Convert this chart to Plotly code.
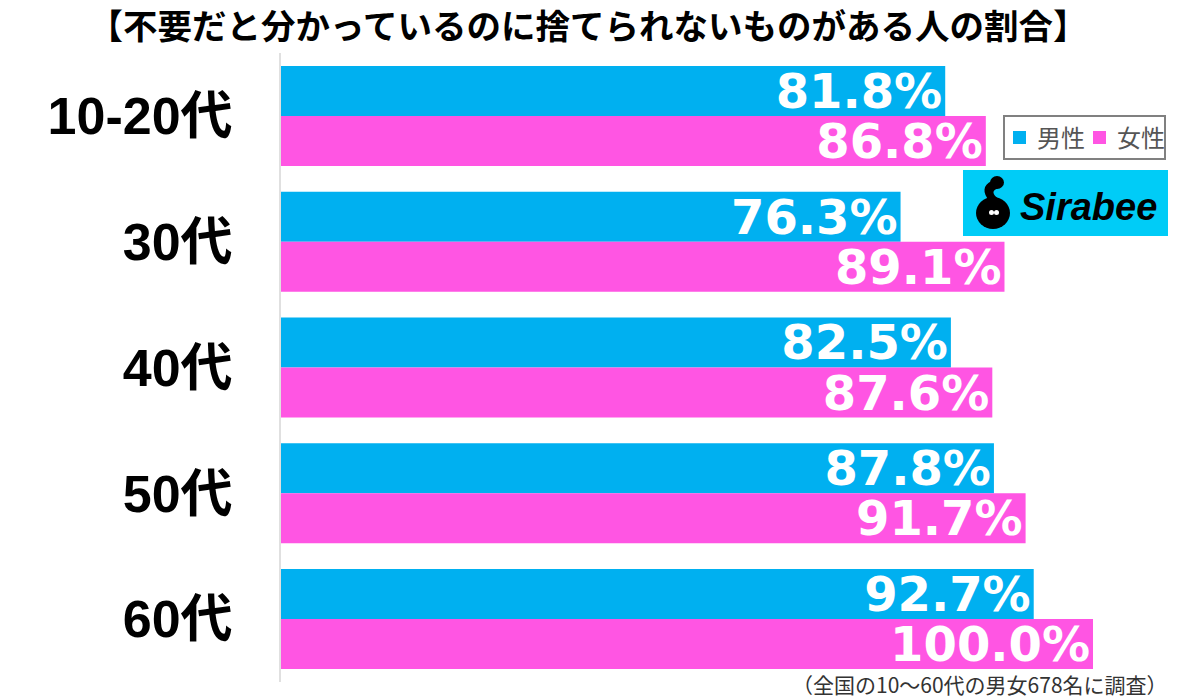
import plotly.graph_objects as go

categories = ["10-20代", "30代", "40代", "50代", "60代"]
male = [81.8, 76.3, 82.5, 87.8, 92.7]
female = [86.8, 89.1, 87.6, 91.7, 100.0]
series_names = ["男性", "女性"]
colors = ["#00B0F0", "#FF55E3"]

title_text = "【不要だと分かっているのに捨てられないものがある人の割合】"
note_text = "（全国の10～60代の男女678名に調査）"

W, H = 1200, 699
L, R, T, B = 281, 107, 53, 17
pw, ph = W - L - R, H - T - B

def px(x):
    return (x - L) / pw

def py(y):
    return (H - B - y) / ph

fig = go.Figure()
for name, vals, col in zip(series_names, [male, female], colors):
    fig.add_trace(go.Bar(
        y=categories, x=vals, name=name, orientation="h",
        marker=dict(color=col, line=dict(width=0)),
        texttemplate="%{x:.1f}%", textposition="inside", insidetextanchor="end",
        constraintext="none", cliponaxis=False, showlegend=False,
        textfont=dict(color="white", size=48, family="DejaVu Sans", weight="bold"),
    ))

fig.update_layout(
    width=W, height=H,
    margin=dict(l=L, r=R, t=T, b=B, pad=0),
    paper_bgcolor="white", plot_bgcolor="white",
    barmode="group", bargap=0.205, bargroupgap=0,
    title=dict(text=title_text, x=0.49, xanchor="center", y=1 - 27 / H, yanchor="middle",
               font=dict(size=34.5, color="black", family="Noto Sans CJK JP", weight="bold")),
    xaxis=dict(range=[0, 100], visible=False, fixedrange=True),
    yaxis=dict(autorange="reversed", showline=True, linecolor="#e0e0e0", linewidth=2,
               ticks="", ticklabelstandoff=36, showgrid=False,
               tickfont=dict(size=52, color="black", family="Liberation Sans, Noto Sans CJK JP", weight="bold")),
    showlegend=False,
)

# custom legend box
fig.add_shape(type="rect", xref="paper", yref="paper", x0=px(1004), x1=px(1165), y0=py(159), y1=py(116),
              fillcolor="white", line=dict(color="#808080", width=2), layer="above")
leg_sq_x = [1013, 1093]
leg_tx_x = [1035, 1115]
for name, col, sx, tx in zip(series_names, colors, leg_sq_x, leg_tx_x):
    fig.add_shape(type="rect", xref="paper", yref="paper", x0=px(sx), x1=px(sx + 13), y0=py(144), y1=py(131),
                  fillcolor=col, line=dict(width=0), layer="above")
    fig.add_annotation(text=name, xref="paper", yref="paper", x=px(tx), y=py(137),
                       xanchor="left", yanchor="middle", showarrow=False,
                       font=dict(size=24, color="#555555", family="Noto Sans CJK JP"))

# footnote
fig.add_annotation(text=note_text, xref="paper", yref="paper", x=px(1170), y=py(684),
                   xanchor="right", yanchor="middle", showarrow=False,
                   font=dict(size=21, color="#333333", family="Noto Sans CJK JP"))

# Sirabee logo block
fig.add_shape(type="rect", xref="paper", yref="paper", x0=px(963), x1=px(1168), y0=py(236), y1=py(170),
              fillcolor="#00CCF7", line=dict(width=0), layer="above")
fig.add_shape(type="circle", xref="paper", yref="paper", x0=px(976), x1=px(1010), y0=py(229), y1=py(197),
              fillcolor="black", line=dict(width=0), layer="above")
fig.add_shape(type="path", xref="paper", yref="paper", layer="above",
              path=f"M {px(990)},{py(200)} Q {px(980)},{py(188)} {px(992)},{py(182)} "
                   f"L {px(996)},{py(188)} Q {px(988)},{py(192)} {px(998)},{py(200)} Z",
              fillcolor="black", line=dict(color="black", width=2))
fig.add_shape(type="circle", xref="paper", yref="paper", x0=px(990), x1=px(1004), y0=py(189), y1=py(176),
              fillcolor="black", line=dict(width=0), layer="above")
fig.add_shape(type="circle", xref="paper", yref="paper", x0=px(989), x1=px(994), y0=py(215), y1=py(210),
              fillcolor="white", line=dict(width=0), layer="above")
fig.add_shape(type="circle", xref="paper", yref="paper", x0=px(994), x1=px(999), y0=py(215), y1=py(210),
              fillcolor="white", line=dict(width=0), layer="above")
fig.add_annotation(text="<b><i>Sirabee</i></b>", xref="paper", yref="paper", x=px(1088), y=py(207),
                   xanchor="center", yanchor="middle", showarrow=False,
                   font=dict(size=38, color="black", family="Liberation Sans, Arial"))

fig.write_html("out.html")
